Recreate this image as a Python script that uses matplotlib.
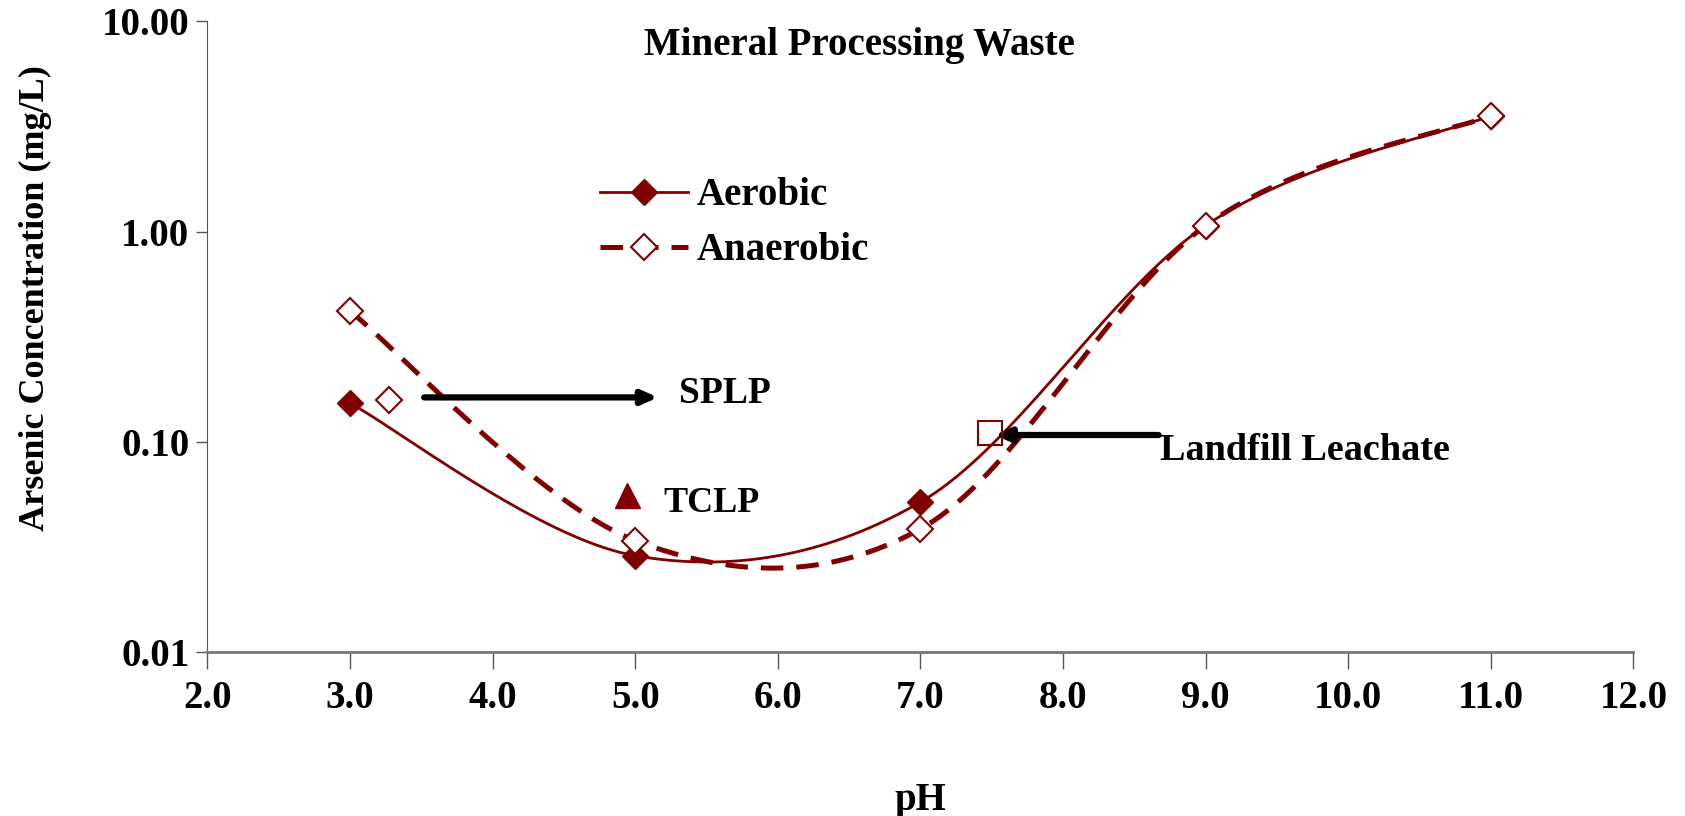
import numpy as np
import matplotlib.pyplot as plt
from matplotlib.lines import Line2D

# data
ph = [3.0, 5.0, 7.0, 9.0, 11.0]
aerobic = [0.153, 0.0288, 0.0518, 1.07, 3.56]
anaerobic = [0.42, 0.034, 0.0386, 1.07, 3.56]

splp_ph, splp_val = 3.27, 0.158
tclp_ph, tclp_val = 4.94, 0.056
leach_ph, leach_val = 7.49, 0.11

x_ticks = [2.0, 3.0, 4.0, 5.0, 6.0, 7.0, 8.0, 9.0, 10.0, 11.0, 12.0]
y_ticks = [0.01, 0.1, 1.0, 10.0]

RED = '#800000'
FONT = 'Liberation Serif'
plt.rcParams['font.family'] = FONT
plt.rcParams['font.weight'] = 'bold'


def smooth(xs, ys, n=40):
    # Excel-like smoothed line: cubic bezier in (x, log y) space
    sx = 1.0 / 10.0
    sy = 1.0 / 3.0 * (630.0 / 1426.0)
    P = np.column_stack([np.asarray(xs) * sx, np.log10(ys) * sy])
    out = []
    m = len(P)
    for i in range(m - 1):
        p0, p3 = P[i], P[i + 1]
        prev = P[i - 1] if i > 0 else P[i]
        nxt = P[i + 2] if i + 2 < m else P[i + 1]
        c1 = p0 + (p3 - prev) / 6.0
        c2 = p3 - (nxt - p0) / 6.0
        t = np.linspace(0, 1, n)[:, None]
        seg = ((1 - t) ** 3) * p0 + 3 * ((1 - t) ** 2) * t * c1 + 3 * (1 - t) * t ** 2 * c2 + t ** 3 * p3
        out.append(seg if i == 0 else seg[1:])
    out = np.vstack(out)
    return out[:, 0] / sx, 10 ** (out[:, 1] / sy)


fig = plt.figure(figsize=(16.85, 8.16), dpi=100)
ax = fig.add_axes([0.1231, 0.2006, 0.8463, 0.7731])

sx_a, sy_a = smooth(ph, aerobic)
sx_n, sy_n = smooth(ph, anaerobic)

ax.plot(sx_a, sy_a, color=RED, lw=2.0, zorder=3)
ax.plot(ph, aerobic, ls='none', marker='D', ms=13, color=RED, zorder=4)

ax.plot(sx_n, sy_n, color=RED, lw=3.6, ls=(0, (4.5, 2.6)), zorder=2)
ax.plot(ph, anaerobic, ls='none', marker='D', ms=13, mfc='white', mec=RED, mew=1.5, zorder=4)

ax.plot([splp_ph], [splp_val], ls='none', marker='D', ms=13, mfc='white', mec=RED, mew=1.5, zorder=4)
ax.plot([tclp_ph], [tclp_val], ls='none', marker='^', ms=18, color=RED, zorder=4)
ax.plot([leach_ph], [leach_val], ls='none', marker='s', ms=17, mfc='none', mec=RED, mew=1.5, zorder=5)

# arrows
ax.annotate('', xy=(5.16, 0.163), xytext=(3.52, 0.163),
            arrowprops=dict(arrowstyle='-|>,head_length=0.9,head_width=0.4', color='black', lw=4.5,
                            shrinkA=0, shrinkB=0))
ax.annotate('', xy=(7.52, 0.108), xytext=(8.67, 0.108),
            arrowprops=dict(arrowstyle='-|>,head_length=0.9,head_width=0.4', color='black', lw=4.5,
                            shrinkA=0, shrinkB=0))

ax.text(5.31, 0.17, 'SPLP', fontsize=27, fontweight='bold', va='center', ha='left')
ax.text(5.2, 0.051, 'TCLP', fontsize=26, fontweight='bold', va='center', ha='left')
ax.text(8.68, 0.091, 'Landfill Leachate', fontsize=27.5, fontweight='bold', va='center', ha='left')
ax.text(0.457, 0.962, 'Mineral Processing Waste', transform=ax.transAxes,
        fontsize=28, fontweight='bold', va='center', ha='center')

ax.set_yscale('log')
ax.set_xlim(2, 12)
ax.set_ylim(0.01, 10)
ax.set_xticks(x_ticks)
ax.set_xticklabels(['%.1f' % v for v in x_ticks])
ax.set_yticks(y_ticks)
ax.set_yticklabels(['%.2f' % v for v in y_ticks])
ax.yaxis.set_minor_locator(plt.NullLocator())

for lab in ax.get_xticklabels() + ax.get_yticklabels():
    lab.set_fontsize(28)
    lab.set_fontweight('bold')

ax.tick_params(axis='x', direction='out', length=12, width=1, color='#555555', pad=8)
ax.tick_params(axis='y', direction='out', length=8, width=1, color='#555555', pad=5)

ax.spines['top'].set_visible(False)
ax.spines['right'].set_visible(False)
ax.spines['left'].set_color('#555555')
ax.spines['bottom'].set_color('#777777')
ax.spines['bottom'].set_linewidth(2)

ax.set_xlabel('pH', fontsize=28, fontweight='bold')
ax.set_ylabel('Arsenic Concentration (mg/L)', fontsize=26, fontweight='bold')
ax.xaxis.set_label_coords(0.5, -0.205)
ax.yaxis.set_label_coords(-0.109, 0.562)

handles = [
    Line2D([], [], color=RED, lw=2.0, marker='D', ms=13),
    Line2D([], [], color=RED, lw=3.6, ls=(0, (4.5, 2.6)), marker='D', ms=13, mfc='white', mec=RED, mew=1.5),
]
ax.legend(handles, ['Aerobic', 'Anaerobic'], loc='center left', bbox_to_anchor=(0.2756, 0.68),
          frameon=False, handlelength=2.26, handletextpad=0.22, labelspacing=0.47,
          borderpad=0, borderaxespad=0, numpoints=1,
          prop={'family': FONT, 'weight': 'bold', 'size': 28})

fig.savefig('out.png', dpi=100)
